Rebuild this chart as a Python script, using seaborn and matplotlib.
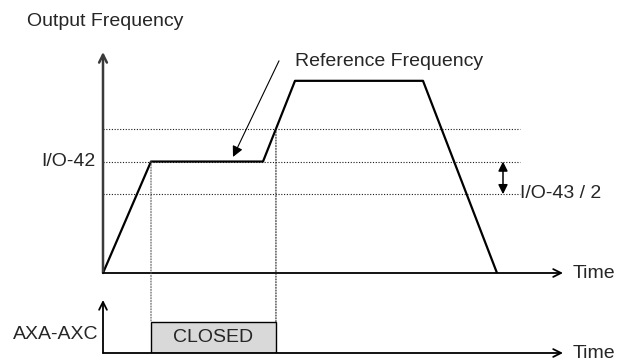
"""
Timing diagram: output frequency profile vs. reference frequency and the
AXA-AXC relay contact (closed while the output sits inside the
I/O-42 +/- I/O-43/2 band on the way up).

Run:
    python plot.py
"""

import matplotlib.pyplot as plt
import numpy as np
import seaborn as sns
from matplotlib.patches import ConnectionPatch

# ---------------- Data (time units, % of max frequency) ----------------
PROFILE_TIME = [0.0, 4.8, 16.0, 19.2, 32.0, 39.4]
PROFILE_FREQ = [0.0, 58.0, 58.0, 100.0, 100.0, 0.0]
IO42_FREQ = 58.0          # detection frequency
IO43_HALF_BAND = 17.0     # half of detection bandwidth
BAND_LEVELS = [IO42_FREQ - IO43_HALF_BAND, IO42_FREQ, IO42_FREQ + IO43_HALF_BAND]
RELAY_LABEL = "CLOSED"

TIME_MAX = 46.0
FREQ_AXIS_MAX = 115.0
RELAY_AXIS_MAX = 1.71
GUIDE_END = 41.7
FONT_SIZE = 14

W, H = 630, 361
DOTS = (0, (1, 1.5))


def axis_arrow(ax, start, end, lw, color="black"):
    ax.annotate(
        "", xy=end, xytext=start, xycoords="axes fraction",
        arrowprops=dict(arrowstyle="->", lw=lw, color=color,
                        mutation_scale=14, shrinkA=0, shrinkB=0),
    )


def main():
    sns.set_theme(style="white")
    plt.rcParams["font.family"] = ["Liberation Sans", "DejaVu Sans"]

    fig = plt.figure(figsize=(W / 100, H / 100), dpi=100)
    ax = fig.add_axes([103 / W, 88 / H, 460 / W, 221 / H])
    ax_relay = fig.add_axes([103 / W, 8 / H, 460 / W, 53 / H])
    for a in (ax, ax_relay):
        a.set_xlim(0, TIME_MAX)
        a.axis("off")
    ax.set_ylim(0, FREQ_AXIS_MAX)
    ax_relay.set_ylim(0, RELAY_AXIS_MAX)

    # ---------------- Band guide lines ----------------
    ax.hlines(BAND_LEVELS, 0, GUIDE_END, colors="#1a1a1a", linestyles=DOTS, lw=0.8)

    # ---------------- Output frequency profile ----------------
    sns.lineplot(x=PROFILE_TIME, y=PROFILE_FREQ, ax=ax, color="black",
                 lw=1.6, sort=False, estimator=None)

    # relay closes when I/O-42 is reached, opens when leaving the band
    t_close = PROFILE_TIME[1]
    t_open = float(np.interp(BAND_LEVELS[2], PROFILE_FREQ[2:4], PROFILE_TIME[2:4]))

    ax_relay.bar(t_close, 1.0, width=t_open - t_close, align="edge",
                 color="#d9d9d9", edgecolor="black", lw=1.0)
    ax_relay.text((t_close + t_open) / 2, 0.5, RELAY_LABEL, ha="center",
                  va="center", fontsize=FONT_SIZE)

    for t, f, c in [(t_close, IO42_FREQ, "#555555"), (t_open, BAND_LEVELS[2], "#1a1a1a")]:
        con = ConnectionPatch(xyA=(t, f), coordsA=ax.transData,
                              xyB=(t, 1.0), coordsB=ax_relay.transData,
                              color=c, linestyle=DOTS, lw=0.8)
        fig.add_artist(con)

    # ---------------- Axes with arrows ----------------
    axis_arrow(ax, (0, 0), (0, 1), lw=1.8, color="#3a3a3a")
    axis_arrow(ax, (0, 0), (1, 0), lw=1.3)
    axis_arrow(ax_relay, (0, 0), (0, 1), lw=1.3)
    axis_arrow(ax_relay, (0, 0), (1, 0), lw=1.3)
    for a in (ax, ax_relay):
        a.annotate("Time", xy=(1, 0), xycoords="axes fraction",
                   xytext=(7, 0), textcoords="offset points",
                   ha="left", va="center", fontsize=FONT_SIZE)

    # ---------------- Labels ----------------
    fig.text(27 / W, 1 - 21 / H, "Output Frequency", ha="left", va="center",
             fontsize=FONT_SIZE)
    ax.annotate("I/O-42", xy=(0, IO42_FREQ), xytext=(-5.5, 0),
                textcoords="offset points", ha="right", va="center",
                fontsize=FONT_SIZE)
    ax_relay.annotate("AXA-AXC", xy=(0, 0.61), xytext=(-3.5, 0),
                      textcoords="offset points", ha="right", va="center",
                      fontsize=FONT_SIZE)

    # reference frequency pointer
    ax.annotate("", xy=(13.0, 60.4), xytext=(17.6, 110.4),
                arrowprops=dict(arrowstyle="-|>", lw=0.8, color="black",
                                mutation_scale=16, shrinkA=0, shrinkB=0))
    ax.text(19.2, 110.1, "Reference Frequency", ha="left", va="center",
            fontsize=FONT_SIZE, clip_on=False)

    # I/O-43 / 2 half band
    ax.annotate("", xy=(40.0, IO42_FREQ), xytext=(40.0, BAND_LEVELS[0]),
                arrowprops=dict(arrowstyle="<|-|>", lw=1.1, color="black",
                                mutation_scale=14, shrinkA=0, shrinkB=0))
    ax.text(GUIDE_END, BAND_LEVELS[0] + 0.5, "I/O-43 / 2", ha="left",
            va="center", fontsize=FONT_SIZE)

    fig.savefig("out.png", dpi=100, facecolor="white")
    plt.close(fig)


if __name__ == "__main__":
    main()
